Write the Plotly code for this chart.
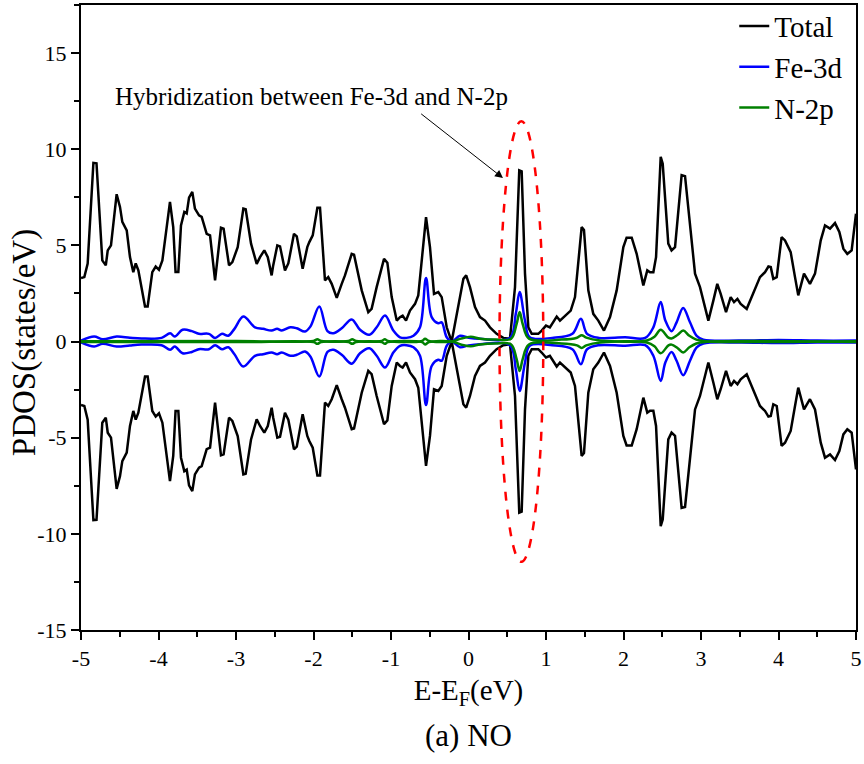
import plotly.graph_objects as go

# ---- data (spin-up values; spin-down is the mirror) ----
total_x = [-5.0, -4.957, -4.914, -4.84, -4.80, -4.725, -4.68, -4.655, -4.613, -4.54, -4.497, -4.467, -4.41,
           -4.368, -4.325, -4.294, -4.26, -4.174, -4.14, -4.08, -4.036, -3.994, -3.95, -3.852, -3.81, -3.78,
           -3.744, -3.71, -3.667, -3.636, -3.606, -3.564, -3.53, -3.477, -3.443, -3.378, -3.335, -3.27, -3.194,
           -3.16, -3.09, -3.047, -2.978, -2.905, -2.875, -2.806, -2.733, -2.69, -2.635, -2.59, -2.54, -2.52,
           -2.467, -2.432, -2.368, -2.325, -2.252, -2.216, -2.14, -2.08, -2.054, -2.01, -1.95, -1.916, -1.852,
           -1.81, -1.765, -1.70, -1.636, -1.594, -1.507, -1.477, -1.378, -1.293, -1.25, -1.185, -1.09, -1.047,
           -0.991, -0.926, -0.884, -0.85, -0.806, -0.755, -0.69, -0.648, -0.548, -0.497, -0.445, -0.39, -0.346,
           -0.281, -0.217, -0.13, -0.066, -0.03, 0.019, 0.084, 0.148, 0.213, 0.277, 0.363, 0.449, 0.535, 0.6,
           0.655, 0.686, 0.729, 0.772, 0.816, 0.901, 0.944, 1.0, 1.05, 1.094, 1.138, 1.18, 1.245, 1.319, 1.374,
           1.43, 1.46, 1.49, 1.546, 1.61, 1.675, 1.748, 1.826, 1.912, 1.998, 2.04, 2.106, 2.17, 2.256, 2.307,
           2.342, 2.385, 2.42, 2.48, 2.506, 2.578, 2.62, 2.665, 2.75, 2.794, 2.858, 2.923, 2.987, 3.095, 3.16,
           3.21, 3.254, 3.323, 3.383, 3.426, 3.47, 3.512, 3.59, 3.675, 3.761, 3.826, 3.87, 3.9, 3.933, 3.977,
           4.04, 4.084, 4.157, 4.213, 4.255, 4.329, 4.406, 4.471, 4.545, 4.6, 4.665, 4.729, 4.785, 4.837, 4.888,
           4.944, 5.0]
total_up = [3.3, 3.35, 4.06, 9.29, 9.27, 4.22, 3.96, 4.74, 5.0, 7.66, 7.0, 6.22, 5.78,
            4.39, 3.61, 4.06, 3.7, 1.82, 1.82, 3.61, 3.9, 3.73, 4.22, 7.26, 5.95, 3.61,
            3.61, 6.04, 6.74, 6.66, 7.48, 7.78, 6.91, 6.56, 6.48, 5.6, 5.52, 3.18, 5.92,
            5.87, 3.96, 4.13, 4.91, 6.91, 6.88, 5.09, 4.04, 4.39, 4.74, 4.39, 3.44, 3.96,
            5.0, 4.95, 3.7, 4.06, 5.6, 5.47, 3.78, 4.91, 5.17, 5.52, 6.96, 6.96, 3.18,
            3.35, 3.0, 2.27, 3.0, 3.44, 4.56, 4.52, 2.66, 1.53, 1.7, 2.83, 4.3, 4.1,
            2.31, 1.09, 1.27, 1.35, 1.09, 1.61, 1.96, 2.4, 6.47, 4.91, 2.48, 2.57, 2.31,
            0.74, 0.0, 1.79, 3.26, 3.44, 2.83, 1.79, 1.27, 1.09, 0.74, 0.4, 0.19, 0.14, 2.83,
            8.9, 8.85, 3.53, 0.74, 0.4, 0.4, 0.57, 0.83, 0.74, 1.0, 1.3, 1.09, 1.35, 1.61, 2.31,
            4.74, 5.95, 5.8, 2.66, 1.44, 1.09, 0.57, 1.27, 2.66, 4.91, 5.4, 5.4, 4.56, 2.92, 3.7,
            3.6, 3.6, 4.39, 9.6, 9.25, 5.09, 4.74, 4.91, 8.65, 8.6, 5.95, 3.53, 2.83, 1.09, 2.14,
            3.0, 2.48, 1.53, 2.31, 2.05, 2.22, 1.96, 1.7, 2.48, 3.35, 3.61, 3.9, 3.87, 3.26, 3.35,
            5.43, 5.26, 4.65, 3.35, 2.4, 3.53, 3.0, 3.53, 5.26, 6.04, 5.87, 6.16, 5.7, 4.83, 4.56,
            4.74, 6.65]
total_dn = [-3.3, -3.35, -4.06, -9.29, -9.27, -4.22, -3.96, -4.74, -5.0, -7.66, -7.0, -6.22, -5.78,
            -4.39, -3.61, -4.06, -3.7, -1.82, -1.82, -3.61, -3.9, -3.73, -4.22, -7.26, -5.95, -3.61,
            -3.61, -6.04, -6.74, -6.66, -7.48, -7.78, -6.91, -6.56, -6.48, -5.6, -5.52, -3.18, -5.92,
            -5.87, -3.96, -4.13, -4.91, -6.91, -6.88, -5.09, -4.04, -4.39, -4.74, -4.39, -3.44, -3.96,
            -5.0, -4.95, -3.7, -4.06, -5.6, -5.47, -3.78, -4.91, -5.17, -5.52, -6.96, -6.96, -3.18,
            -3.35, -3.0, -2.27, -3.0, -3.44, -4.56, -4.52, -2.66, -1.53, -1.7, -2.83, -4.3, -4.1,
            -2.31, -1.09, -1.27, -1.35, -1.09, -1.61, -1.96, -2.4, -6.47, -4.91, -2.48, -2.57, -2.31,
            -0.74, 0.0, -1.79, -3.26, -3.44, -2.83, -1.79, -1.27, -1.09, -0.74, -0.4, -0.19, -0.14, -2.83,
            -8.9, -8.85, -3.53, -0.74, -0.4, -0.4, -0.57, -0.83, -0.74, -1.0, -1.3, -1.09, -1.35, -1.61, -2.31,
            -4.74, -5.95, -5.8, -2.66, -1.44, -1.09, -0.57, -1.27, -2.66, -4.91, -5.4, -5.4, -4.56, -2.92, -3.7,
            -3.6, -3.6, -4.39, -9.6, -9.25, -5.09, -4.74, -4.91, -8.65, -8.6, -5.95, -3.53, -2.83, -1.09, -2.14,
            -3.0, -2.48, -1.53, -2.31, -2.05, -2.22, -1.96, -1.7, -2.48, -3.35, -3.61, -3.9, -3.87, -3.26, -3.35,
            -5.43, -5.26, -4.65, -3.35, -2.4, -3.53, -3.0, -3.53, -5.26, -6.04, -5.87, -6.16, -5.7, -4.83, -4.56,
            -4.74, -6.65]

fe_x = [-5.0, -4.83, -4.72, -4.54, -4.37, -4.22, -3.96, -3.85, -3.79, -3.69, -3.57, -3.48, -3.35, -3.27,
        -3.18, -3.10, -3.02, -2.905, -2.755, -2.65, -2.54, -2.47, -2.41, -2.30, -2.216, -2.11, -2.04, -1.925,
        -1.82, -1.745, -1.636, -1.507, -1.40, -1.28, -1.185, -1.077, -0.97, -0.884, -0.80, -0.71, -0.626,
        -0.548, -0.475, -0.39, -0.346, -0.281, -0.217, -0.11, 0.0, 0.148, 0.535, 0.61, 0.66, 0.729, 0.79,
        1.08, 1.34, 1.45, 1.53, 1.68, 2.02, 2.28, 2.385, 2.48, 2.54, 2.62, 2.685, 2.77, 2.858, 2.944, 3.03,
        3.5, 4.0, 4.5, 5.0]
fe_up = [0.05, 0.26, 0.12, 0.26, 0.2, 0.16, 0.19, 0.43, 0.26, 0.61, 0.54, 0.4, 0.4, 0.19,
         0.4, 0.3, 0.66, 1.3, 0.74, 0.66, 0.57, 0.66, 0.57, 0.74, 0.69, 0.52, 0.78, 1.82,
         0.54, 0.43, 0.69, 1.15, 0.61, 0.35, 0.74, 1.35, 0.57, 0.22, 0.19, 0.3, 0.74,
         3.3, 1.27, 0.95, 1.0, 0.22, 0.0, 0.3, 0.2, 0.14, 0.19, 1.44, 2.57, 1.09, 0.22,
         0.19, 0.4, 1.18, 0.4, 0.19, 0.22, 0.19, 0.74, 2.05, 1.09, 0.54, 1.0, 1.75, 1.0, 0.3, 0.1,
         0.05, 0.08, 0.05, 0.05]
fe_dn = [-0.05, -0.26, -0.12, -0.26, -0.2, -0.16, -0.19, -0.43, -0.26, -0.61, -0.54, -0.4, -0.4, -0.19,
         -0.4, -0.3, -0.66, -1.3, -0.74, -0.66, -0.57, -0.66, -0.57, -0.74, -0.69, -0.52, -0.78, -1.82,
         -0.54, -0.43, -0.69, -1.15, -0.61, -0.35, -0.74, -1.35, -0.57, -0.22, -0.19, -0.3, -0.74,
         -3.3, -1.27, -0.95, -1.0, -0.22, 0.0, -0.3, -0.2, -0.14, -0.19, -1.44, -2.57, -1.09, -0.22,
         -0.19, -0.4, -1.18, -0.4, -0.19, -0.22, -0.19, -0.74, -2.05, -1.09, -0.54, -1.0, -1.75, -1.0, -0.3, -0.1,
         -0.05, -0.08, -0.05, -0.05]

n_x = [-5.0, -3.0, -2.0, -1.95, -1.9, -1.55, -1.5, -1.45, -1.12, -1.08, -1.04, -0.6, -0.56, -0.51,
       -0.217, -0.1, 0.03, 0.15, 0.35, 0.55, 0.62, 0.66, 0.70, 0.78, 1.2, 1.40, 1.46, 1.52, 1.7, 2.3,
       2.40, 2.48, 2.58, 2.62, 2.70, 2.77, 2.85, 2.94, 3.05, 5.0]
n_up = [0.02, 0.03, 0.03, 0.12, 0.03, 0.03, 0.12, 0.03, 0.03, 0.12, 0.03, 0.03, 0.15, 0.03,
        0.0, 0.15, 0.25, 0.15, 0.1, 0.15, 0.9, 1.53, 0.9, 0.15, 0.1, 0.2, 0.33, 0.2, 0.05, 0.05,
        0.25, 0.61, 0.2, 0.16, 0.35, 0.57, 0.3, 0.1, 0.02, 0.02]
n_dn = [-0.02, -0.03, -0.03, -0.12, -0.03, -0.03, -0.12, -0.03, -0.03, -0.12, -0.03, -0.03, -0.15, -0.03,
        0.0, -0.15, -0.25, -0.15, -0.1, -0.15, -0.9, -1.53, -0.9, -0.15, -0.1, -0.2, -0.33, -0.2, -0.05, -0.05,
        -0.25, -0.61, -0.2, -0.16, -0.35, -0.57, -0.3, -0.1, -0.02, -0.02]

x_ticks = [-5, -4, -3, -2, -1, 0, 1, 2, 3, 4, 5]
y_ticks = [-15, -10, -5, 0, 5, 10, 15]

FONT = "Liberation Serif"

fig = go.Figure()
series = [
    ("Total", total_x, total_up, total_dn, "#000000", "linear"),
    ("Fe-3d", fe_x, fe_up, fe_dn, "#0000FF", "spline"),
    ("N-2p", n_x, n_up, n_dn, "#008000", "spline"),
]
for name, xs, up, dn, col, shp in series:
    fig.add_trace(go.Scatter(x=xs, y=up, mode="lines", name=name, legendgroup=name,
                             line=dict(color=col, width=2.5, shape=shp)))
    fig.add_trace(go.Scatter(x=xs, y=dn, mode="lines", name=name, legendgroup=name, showlegend=False,
                             line=dict(color=col, width=2.5, shape=shp)))

# dashed ellipse around the hybridization peak
fig.add_shape(type="circle", xref="x", yref="y", x0=0.40, x1=0.965, y0=-11.45, y1=11.45,
              line=dict(color="#FF0000", width=2.5, dash="dash"))

# arrow + label
fig.add_annotation(x=0.445, y=8.5, ax=-0.63, ay=11.9, xref="x", yref="y", axref="x", ayref="y",
                   text="", showarrow=True, arrowhead=2, arrowsize=1.6, arrowwidth=1, arrowcolor="black")
fig.add_annotation(x=-2.02, y=12.75, xref="x", yref="y", text="Hybridization between Fe-3d and N-2p",
                   showarrow=False, font=dict(family=FONT, size=25, color="black"))
fig.add_annotation(x=0.5, y=-0.168, xref="paper", yref="paper", text="(a) NO", showarrow=False,
                   yanchor="middle", font=dict(family=FONT, size=31, color="black"))
# y-axis title (centred on the zero line as in the original)
fig.add_annotation(x=-0.0735, y=0.459, xref="paper", yref="paper", text="PDOS(states/eV)",
                   textangle=-90, showarrow=False, xanchor="center", yanchor="middle",
                   font=dict(family=FONT, size=33, color="black"))

axis_common = dict(showline=True, linecolor="black", linewidth=2, mirror=True, ticks="outside",
                   ticklen=8, tickwidth=2, tickcolor="black", showgrid=False, zeroline=False,
                   automargin=False, tickfont=dict(family=FONT, size=22, color="black"))
fig.update_xaxes(range=[-5, 5], tickvals=x_ticks, ticktext=[str(v) for v in x_ticks],
                 ticklabeloverflow="allow",
                 minor=dict(dtick=0.5, ticks="outside", ticklen=5, tickwidth=2, tickcolor="black"),
                 title=dict(text="E-E<sub>F</sub>(eV)", font=dict(family=FONT, size=29, color="black"),
                            standoff=9),
                 **axis_common)
fig.update_yaxes(range=[-15, 17.5], tickvals=y_ticks, ticktext=[str(v) for v in y_ticks],
                 ticklabeloverflow="allow",
                 minor=dict(dtick=2.5, ticks="outside", ticklen=5, tickwidth=2, tickcolor="black"),
                 **axis_common)

fig.update_layout(
    width=864, height=764,
    margin=dict(l=81, r=8, t=5, b=134, autoexpand=False),
    plot_bgcolor="white", paper_bgcolor="white",
    legend=dict(x=0.99, y=0.999, xanchor="right", yanchor="top", yref="container",
                bgcolor="rgba(0,0,0,0)",
                font=dict(family=FONT, size=29, color="black"), tracegroupgap=0,
                itemwidth=30),
    showlegend=True,
)

fig.write_html("out.html", config={"displayModeBar": False},
               post_script="document.body.style.margin='0px';")
